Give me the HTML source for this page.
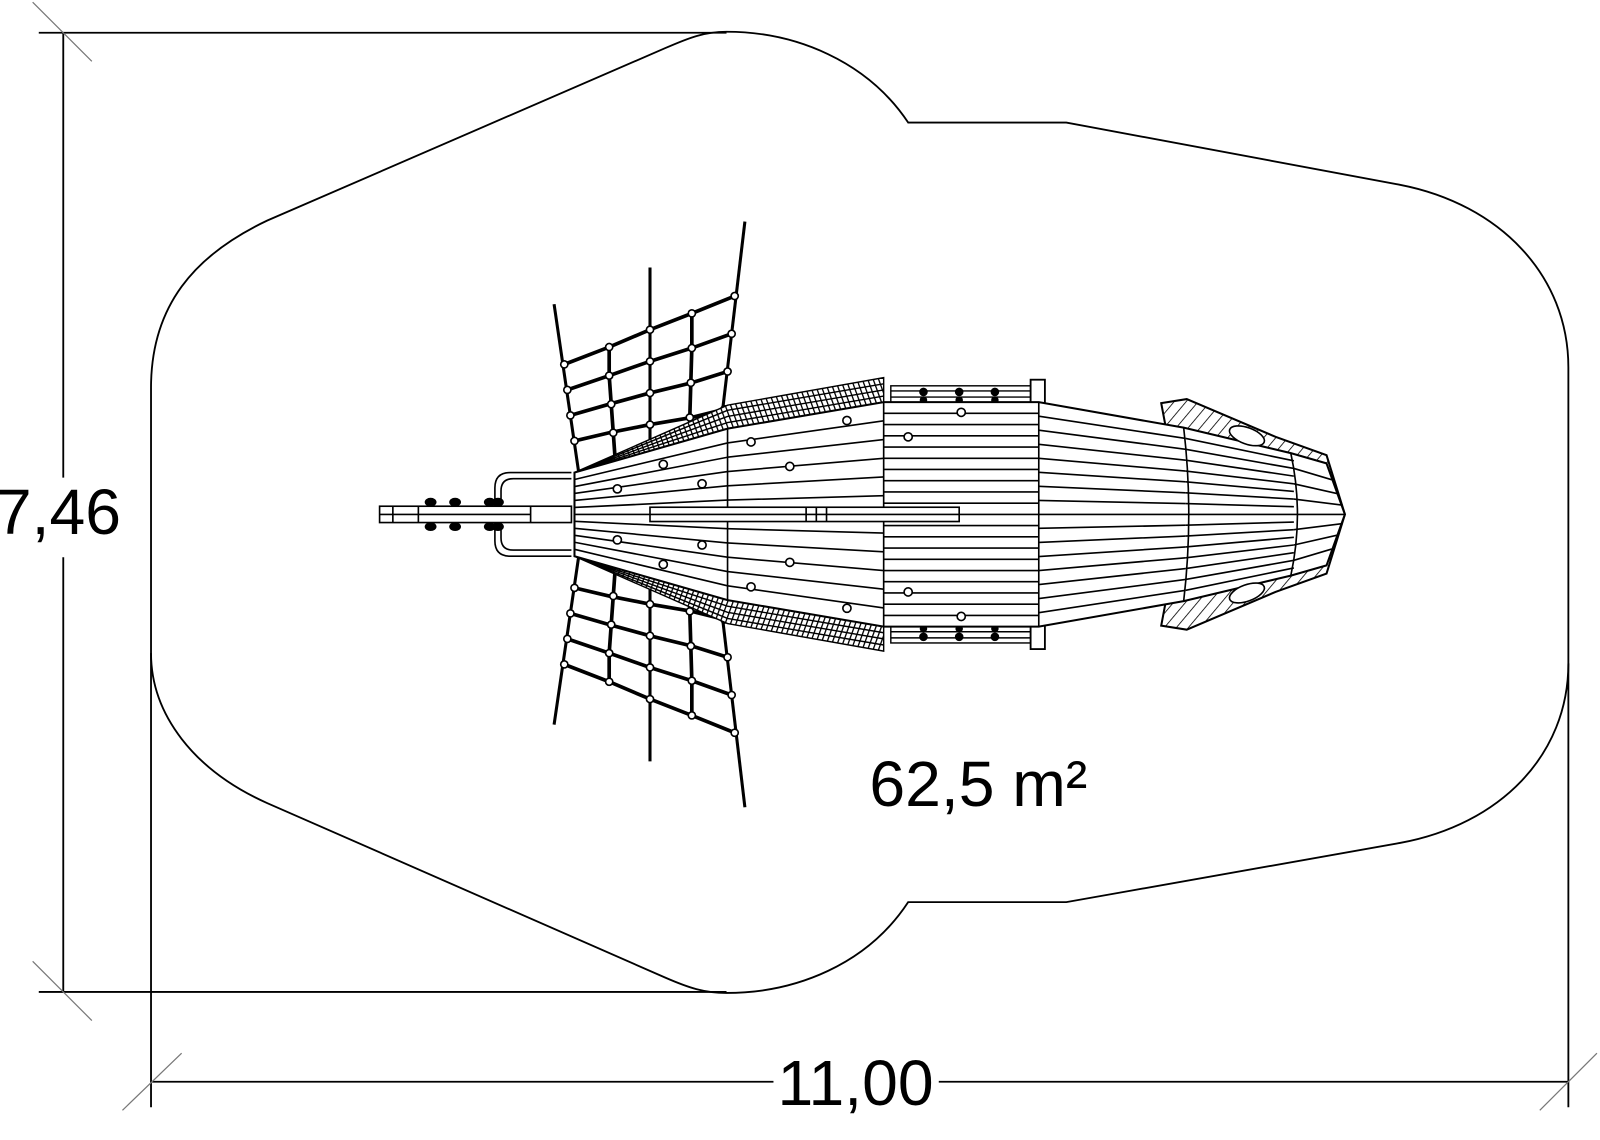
<!DOCTYPE html>
<html><head><meta charset="utf-8"><style>html,body{margin:0;padding:0;background:#fff}svg{display:block}</style></head>
<body>
<svg width="1600" height="1140" viewBox="0 0 1568 1117" xmlns="http://www.w3.org/2000/svg">
<defs>
<pattern id="h" width="5" height="5" patternUnits="userSpaceOnUse" patternTransform="rotate(-20)"><rect width="5" height="5" fill="#fff"/><line x1="2" y1="0" x2="2" y2="5" stroke="#000" stroke-width="1.3"/></pattern>
<pattern id="h2" width="9" height="9" patternUnits="userSpaceOnUse" patternTransform="rotate(40)"><rect width="9" height="9" fill="#fff"/><line x1="0" y1="0" x2="0" y2="9" stroke="#000" stroke-width="1.6"/></pattern>
</defs>
<g fill="none" stroke="#000" stroke-width="1.8">
<path d="M148 640 L148 380 C148 300 190 250 262 216 L652 47 C675 37 690 31 712 31 C780 31 850 60 890 120 L1045 120 L1372 181 C1470 200 1537 270 1537 360 L1537 650 C1537 740 1470 808 1372 826 L1045 884 L890 884 C850 945 780 973 712 973 C690 973 675 968 652 958 L262 787 C190 755 148 700 148 640 Z"/>
<line x1="62" y1="32" x2="62" y2="468"/><line x1="62" y1="546" x2="62" y2="972"/>
<line x1="38" y1="32" x2="712" y2="32"/><line x1="38" y1="972" x2="712" y2="972"/>
<line x1="148" y1="640" x2="148" y2="1085"/><line x1="1537" y1="650" x2="1537" y2="1085"/>
<line x1="148" y1="1060" x2="758" y2="1060"/><line x1="920" y1="1060" x2="1537" y2="1060"/>
</g>
<g stroke="#777" stroke-width="1.2">
<line x1="32" y1="2" x2="90" y2="60"/><line x1="32" y1="942" x2="90" y2="1000"/>
<line x1="120" y1="1088" x2="178" y2="1032"/><line x1="1509" y1="1088" x2="1565" y2="1032"/>
</g>
<g font-family="Liberation Sans, sans-serif" font-size="63" fill="#000">
<text x="-4" y="523">7,46</text>
<text x="762" y="1083">11,00</text>
<text x="852" y="790">62,5 m²</text>
</g>

<g id="net" fill="none" stroke="#000">
<line x1="543" y1="298" x2="567" y2="462" stroke-width="3"/>
<line x1="730" y1="217" x2="706" y2="420" stroke-width="3"/>
<line x1="637" y1="262" x2="637" y2="462" stroke-width="3"/>
<g stroke-width="3.6">
<polyline points="553,357 597,340 637,323 678,307 720,290"/>
<polyline points="556,382 597,368 637,354 678,341 717,327"/>
<polyline points="559,407 597,396 637,385 678,375 713,364"/>
<polyline points="563,432 597,424 637,416 678,409 710,401"/>
<polyline points="597,340 597,368 599,396 601,424 603,452"/>
<polyline points="678,307 678,341 677,375 676,409 675,443"/>
</g>
<g fill="#fff" stroke-width="1.6">
<circle cx="553" cy="357" r="3.5"/><circle cx="597" cy="340" r="3.5"/><circle cx="637" cy="323" r="3.5"/><circle cx="678" cy="307" r="3.5"/><circle cx="720" cy="290" r="3.5"/>
<circle cx="556" cy="382" r="3.5"/><circle cx="597" cy="368" r="3.5"/><circle cx="637" cy="354" r="3.5"/><circle cx="678" cy="341" r="3.5"/><circle cx="717" cy="327" r="3.5"/>
<circle cx="559" cy="407" r="3.5"/><circle cx="599" cy="396" r="3.5"/><circle cx="637" cy="385" r="3.5"/><circle cx="677" cy="375" r="3.5"/><circle cx="713" cy="364" r="3.5"/>
<circle cx="563" cy="432" r="3.5"/><circle cx="601" cy="424" r="3.5"/><circle cx="637" cy="416" r="3.5"/><circle cx="676" cy="409" r="3.5"/><circle cx="710" cy="401" r="3.5"/>
</g>
</g>
<use href="#net" transform="translate(0,1008) scale(1,-1)"/>

<path d="M1138 395 L1163 391 L1250 428 L1300 446 L1318 504 L1300 562 L1250 580 L1163 617 L1138 613 L1148 560 L1148 448 Z" fill="url(#h2)" stroke="#000" stroke-width="2"/>

<g id="band" stroke="#000" stroke-width="1.4" fill="url(#h)">
<path d="M563 463 L713 397 L866 370 L866 394 L713 420 Z"/>
<path d="M563 463 L713 402 L866 376 M563 463 L713 408 L866 382 M563 463 L713 414 L866 388" fill="none"/>
<rect x="873" y="378" width="137" height="17" fill="#fff"/>
<line x1="873" y1="383" x2="1010" y2="383"/><line x1="873" y1="389" x2="1010" y2="389"/>
<rect x="1010" y="372" width="14" height="28" fill="#fff" stroke-width="1.8"/>
<circle cx="905" cy="384" r="3.5" fill="#000"/><circle cx="940" cy="384" r="3.5" fill="#000"/><circle cx="975" cy="384" r="3.5" fill="#000"/>
<circle cx="905" cy="392" r="3" fill="#000"/><circle cx="940" cy="392" r="3" fill="#000"/><circle cx="975" cy="392" r="3" fill="#000"/>
</g>
<use href="#band" transform="translate(0,1008) scale(1,-1)"/>

<path d="M563 463 L713 420 L866 394 L1018 394 L1160 419 L1265 444 L1300 454 L1318 504 L1300 554 L1265 564 L1160 589 L1018 614 L866 614 L713 588 L563 545 Z" fill="#fff" stroke="#000" stroke-width="2"/>
<g fill="none" stroke="#000" stroke-width="1.6">
<path d="M713 420 V588 M866 394 V614 M1018 394 V614 M1160 419 Q1170 504 1160 589 M1265 444 Q1278 504 1265 564 M563 504 H1318"/>
<path d="M563 497.2L713 490 M563 490.3L713 476 M563 483.5L713 462 M563 476.7L713 448 M563 469.8L713 434 M563 510.8L713 518 M563 517.7L713 532 M563 524.5L713 546 M563 531.3L713 560 M563 538.2L713 574"/>
<path d="M713 490L866 485.7 M713 476L866 467.3 M713 462L866 449 M713 448L866 430.7 M713 434L866 412.3 M713 518L866 522.3 M713 532L866 540.7 M713 546L866 559 M713 560L866 577.3 M713 574L866 595.7"/>
<path d="M866 493H1018M866 482H1018M866 471H1018M866 460H1018M866 449H1018M866 438H1018M866 427H1018M866 416H1018M866 405H1018M866 515H1018M866 526H1018M866 537H1018M866 548H1018M866 559H1018M866 570H1018M866 581H1018M866 592H1018M866 603H1018"/>
<path d="M1018 490.3L1162 493.4M1018 476.5L1162 482.8M1018 462.8L1162 472.1M1018 449L1162 461.5M1018 435.3L1162 450.9M1018 421.5L1162 440.2M1018 407.8L1162 429.6M1018 517.7L1162 514.6M1018 531.5L1162 525.2M1018 545.3L1162 535.9M1018 559L1162 546.5M1018 572.8L1162 557.1M1018 586.5L1162 567.8M1018 600.3L1162 578.4"/>
<path d="M1162 493.4L1268 496.5M1162 482.8L1268 489M1162 472.1L1268 481.5M1162 461.5L1268 474M1162 450.9L1268 466.5M1162 440.2L1268 459M1162 429.6L1268 451.5M1162 514.6L1268 511.5M1162 525.2L1268 519M1162 535.9L1268 526.5M1162 546.5L1268 534M1162 557.1L1268 541.5M1162 567.8L1268 549M1162 578.4L1268 556.5"/>
<path d="M1268 459L1305 470M1268 474L1312 484M1268 489L1316 495M1268 519L1316 513M1268 534L1312 524M1268 549L1305 538"/>
</g>
<g fill="#fff" stroke="#000" stroke-width="1.6">
<ellipse cx="1222" cy="427" rx="18" ry="8" transform="rotate(20 1222 427)"/>
<ellipse cx="1222" cy="581" rx="18" ry="8" transform="rotate(-20 1222 581)"/>
<circle cx="605" cy="479" r="4"/><circle cx="650" cy="455" r="4"/><circle cx="688" cy="474" r="4"/><circle cx="736" cy="433" r="4"/><circle cx="774" cy="457" r="4"/><circle cx="830" cy="412" r="4"/><circle cx="890" cy="428" r="4"/><circle cx="942" cy="404" r="4"/>
<circle cx="605" cy="529" r="4"/><circle cx="650" cy="553" r="4"/><circle cx="688" cy="534" r="4"/><circle cx="736" cy="575" r="4"/><circle cx="774" cy="551" r="4"/><circle cx="830" cy="596" r="4"/><circle cx="890" cy="580" r="4"/><circle cx="942" cy="604" r="4"/>
<rect x="637" y="497" width="303" height="14"/>
<path d="M637 504 H940 M790 497 V511 M800 497 V511 M810 497 V511" fill="none"/>
</g>

<g fill="#fff" stroke="#000" stroke-width="1.6">
<path d="M560 463 H500 Q485 463 485 478 V530 Q485 545 500 545 H560 M560 469 H503 Q491 469 491 481 V527 Q491 539 503 539 H560" fill="none"/>
<rect x="372" y="496" width="188" height="16"/>
<path d="M372 504 H520 M385 496 V512 M410 496 V512 M520 496 V512" fill="none"/>
<g fill="#000">
<ellipse cx="422" cy="492" rx="5" ry="3.5"/><ellipse cx="446" cy="492" rx="5" ry="3.5"/><ellipse cx="480" cy="492" rx="5" ry="3.5"/><ellipse cx="488" cy="492" rx="5" ry="3.5"/>
<ellipse cx="422" cy="516" rx="5" ry="3.5"/><ellipse cx="446" cy="516" rx="5" ry="3.5"/><ellipse cx="480" cy="516" rx="5" ry="3.5"/><ellipse cx="488" cy="516" rx="5" ry="3.5"/>
</g>
</g>
</svg>
</body></html>
